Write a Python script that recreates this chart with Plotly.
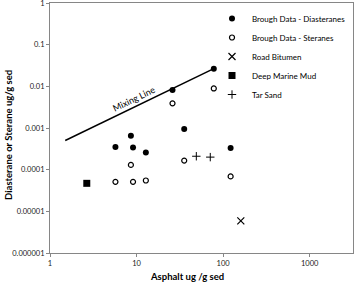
import plotly.graph_objects as go

# Data
dia_x = [5.7, 9.1, 12.8, 8.6, 26, 78, 35.5, 122]
dia_y = [3.5e-4, 3.4e-4, 2.6e-4, 6.5e-4, 8.2e-3, 0.0266, 9.5e-4, 3.3e-4]
ster_x = [26, 78, 8.6, 5.7, 9.1, 12.8, 35.5, 122]
ster_y = [3.9e-3, 8.9e-3, 1.3e-4, 5.1e-5, 5.1e-5, 5.5e-5, 1.65e-4, 6.9e-5]
road_x = [160]
road_y = [5.9e-6]
mud_x = [2.66]
mud_y = [4.7e-5]
tar_x = [49, 71]
tar_y = [2.1e-4, 2.0e-4]
mix_x = [1.5, 78]
mix_y = [5.0e-4, 0.0266]

x_ticks = [1, 10, 100, 1000]
x_tick_labels = ["1", "10", "100", "1000"]
y_ticks = [1, 0.1, 0.01, 0.001, 0.0001, 0.00001, 0.000001]
y_tick_labels = ["1", "0.1", "0.01", "0.001", "0.0001", "0.00001", "0.000001"]

FONT = "Lato"
fig = go.Figure()
fig.add_trace(go.Scatter(x=mix_x, y=mix_y, mode="lines", line=dict(color="black", width=1.5),
                         showlegend=False, hoverinfo="skip"))
fig.add_trace(go.Scatter(x=dia_x, y=dia_y, mode="markers", name="Brough Data - Diasteranes",
                         marker=dict(symbol="circle", size=6, color="black")))
fig.add_trace(go.Scatter(x=ster_x, y=ster_y, mode="markers", name="Brough Data - Steranes",
                         marker=dict(symbol="circle-open", size=5, color="black", line=dict(width=1.2))))
fig.add_trace(go.Scatter(x=road_x, y=road_y, mode="markers", name="Road Bitumen",
                         marker=dict(symbol="x-thin-open", size=7, color="black", line=dict(width=1.2))))
fig.add_trace(go.Scatter(x=mud_x, y=mud_y, mode="markers", name="Deep Marine Mud",
                         marker=dict(symbol="square", size=7, color="black")))
fig.add_trace(go.Scatter(x=tar_x, y=tar_y, mode="markers", name="Tar Sand",
                         marker=dict(symbol="cross-thin-open", size=6, color="black", line=dict(width=1))))

axis_common = dict(showgrid=False, zeroline=False, showline=True, mirror=True,
                   linecolor="#868686", linewidth=1, ticks="outside", ticklen=3,
                   tickcolor="#868686", ticklabeloverflow="allow",
                   tickfont=dict(family=FONT, size=7.5, color="#222"))
fig.update_xaxes(type="log", range=[0, 3.5], tickvals=x_ticks, ticktext=x_tick_labels, **axis_common)
fig.update_yaxes(type="log", range=[-6, 0], tickvals=y_ticks, ticktext=y_tick_labels, **axis_common)

fig.add_annotation(x=0.973, y=-2.296, xref="x", yref="y", text="Mixing Line", showarrow=False,
                   textangle=-25.7, font=dict(family=FONT, size=9, color="black"))
fig.add_annotation(x=(187 - 50) / 303, y=-(276 - 253) / 250, xref="paper", yref="paper",
                   text="<b>Asphalt ug /g sed</b>", xanchor="center", yanchor="middle",
                   showarrow=False, font=dict(family=FONT, size=9.5, color="black"))
fig.add_annotation(x=-(50 - 8) / 303, y=(253 - 135) / 250, xref="paper", yref="paper",
                   text="<b>Diasterane or Sterane ug/g sed</b>", textangle=-90, showarrow=False,
                   xanchor="center", yanchor="middle", font=dict(family=FONT, size=9.5, color="black"))

fig.update_layout(
    width=355, height=284, margin=dict(l=50, r=2, t=3, b=31, autoexpand=False),
    paper_bgcolor="white", plot_bgcolor="white",
    legend=dict(x=(212 - 50) / 303, y=(253 - 4) / 250, xanchor="left", yanchor="top",
                font=dict(family=FONT, size=8, color="black"), bgcolor="rgba(0,0,0,0)",
                itemwidth=30, tracegroupgap=0),
)
fig.write_html("out.html", config={"displayModeBar": False},
               post_script="document.body.style.margin='0';document.body.style.overflow='hidden';")
